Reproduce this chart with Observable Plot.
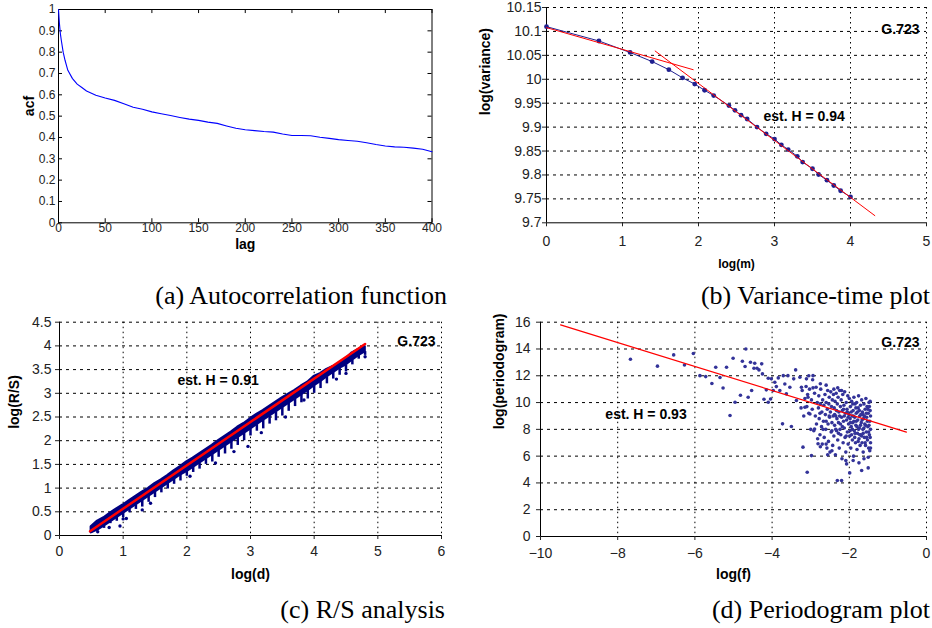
<!DOCTYPE html>
<html><head><meta charset="utf-8">
<script src="https://cdn.jsdelivr.net/npm/d3@7"></script>
<script src="https://cdn.jsdelivr.net/npm/@observablehq/plot@0.6"></script>
<style>
body{margin:0;background:#fff;}
#wrap{position:relative;width:932px;height:628px;overflow:hidden;background:#fff;}
.panel{position:absolute;}
.cap{position:absolute;font-family:"Liberation Serif","Times New Roman",Times,serif;font-size:26px;line-height:30px;color:#000;white-space:nowrap;}
</style></head><body><div id="wrap"></div>
<script>
// ---------- (a) Autocorrelation function ----------
const acfLag = [0,1,2,3,5,7,10,15,20,25,30,40,50,60,70,80,90,100,110,120,130,140,150,160,170,180,190,200,210,220,230,240,250,260,270,280,290,300,310,320,330,340,350,360,370,380,390,400];
const acfVal = [1.0,0.934,0.887,0.856,0.80,0.762,0.715,0.676,0.65,0.634,0.618,0.598,0.585,0.574,0.558,0.542,0.532,0.52,0.511,0.503,0.494,0.486,0.48,0.472,0.466,0.454,0.443,0.436,0.432,0.428,0.425,0.416,0.409,0.409,0.408,0.401,0.396,0.39,0.386,0.382,0.375,0.367,0.36,0.356,0.354,0.35,0.345,0.333];
const aXTicks = [0,50,100,150,200,250,300,350,400];
const aYTicks = [0,0.1,0.2,0.3,0.4,0.5,0.6,0.7,0.8,0.9,1];

// ---------- (b) Variance-time plot ----------
const vtLogM = [0,0.69,1.1,1.39,1.61,1.79,1.95,2.08,2.2,2.4,2.48,2.56,2.64,2.77,2.89,3.0,3.09,3.18,3.3,3.37,3.5,3.58,3.69,3.78,3.87,4.0];
const vtLogVar = [10.11,10.08,10.056,10.037,10.02,10.003,9.99,9.977,9.966,9.945,9.935,9.925,9.917,9.90,9.886,9.875,9.863,9.853,9.839,9.827,9.813,9.801,9.789,9.778,9.767,9.754];
const vtFit1X = [0,1.93], vtFit1Y = [10.108,10.02];
const vtFit2X = [1.43,4.32], vtFit2Y = [10.059,9.715];
const bXTicks = [0,1,2,3,4,5];
const bYTicks = [9.7,9.75,9.8,9.85,9.9,9.95,10,10.05,10.1,10.15];

// ---------- (c) R/S analysis (per log(d) column: sparse lower tail, dense core, top) ----------
const rsX   = [0.5,0.6,0.7,0.8,0.9,1.0,1.1,1.2,1.3,1.4,1.5,1.6,1.7,1.8,1.9,2.0,2.1,2.2,2.3,2.4,2.5,2.6,2.7,2.8,2.9,3.0,3.1,3.2,3.3,3.4,3.5,3.6,3.7,3.8,3.9,4.0,4.1,4.2,4.3,4.4,4.5,4.6,4.7,4.8];
const rsLo  = [0.05,0.1,0.15,0.25,0.3,0.38,0.48,0.55,0.6,0.7,0.8,0.9,0.98,1.08,1.15,1.25,1.33,1.4,1.5,1.55,1.65,1.72,1.82,1.9,2.0,2.1,2.2,2.25,2.35,2.42,2.52,2.62,2.72,2.8,2.88,3.0,3.1,3.2,3.3,3.38,3.45,3.6,3.72,3.8];
const rsMid = [0.06,0.12,0.2,0.29,0.38,0.47,0.56,0.65,0.74,0.83,0.92,1.01,1.1,1.19,1.28,1.35,1.44,1.53,1.62,1.71,1.8,1.89,1.98,2.07,2.16,2.25,2.34,2.43,2.52,2.61,2.7,2.79,2.88,2.97,3.06,3.16,3.25,3.35,3.44,3.53,3.6,3.7,3.8,3.88];
const rsHi  = [0.18,0.3,0.37,0.47,0.56,0.64,0.73,0.82,0.91,0.99,1.09,1.17,1.26,1.36,1.45,1.55,1.63,1.72,1.81,1.9,2.0,2.09,2.18,2.28,2.36,2.46,2.55,2.63,2.72,2.81,2.9,2.98,3.06,3.15,3.23,3.35,3.41,3.5,3.56,3.63,3.72,3.85,3.92,3.98];
const rsOutX = [0.78,0.95,1.0,1.3,2.45,2.74,2.96,3.17,3.84,4.5,4.8,0.6,1.05,1.43,2.05,3.55,4.35];
const rsOutY = [0.17,0.2,0.35,0.54,1.53,1.77,1.88,2.17,2.86,3.42,3.77,0.08,0.36,0.68,1.25,2.5,3.3];
const rsFitX = [0.48,4.8], rsFitY = [0.09,4.04];
const cXTicks = [0,1,2,3,4,5,6];
const cYTicks = [0,0.5,1,1.5,2,2.5,3,3.5,4,4.5];

// ---------- (d) Periodogram plot ----------
const perPts = [
[-7.67,13.23],[-6.97,12.72],[-6.55,13.56],[-6.27,12.81],[-6.04,13.66],[-5.87,12.01],[-5.72,11.94],[-5.56,11.42],[-5.46,12.64],[-5.35,11.87],[-5.27,11.09],[-5.18,12.64],[-5.09,9.03],[-5.01,13.31],[-4.96,10.02],[-4.82,10.55],[-4.77,13.08],[-4.68,14.0],[-4.70,12.69],[-4.62,10.4],[-4.56,13.01],[-4.53,10.9],[-4.47,12.56],[-4.45,12.94],[-4.39,12.56],[-4.34,12.44],[-4.27,12.89],[-4.25,12.14],[-4.21,10.25],[-4.15,10.95],[-4.10,11.82],[-4.10,10.02],[-4.04,10.27],[-4.02,11.77],[-3.97,10.9],[-3.93,11.52],[-3.89,11.19],[-3.84,11.84],[-3.80,10.9],[-3.73,8.41],[-3.71,12.01],[-3.67,11.39],[-3.63,10.65],[-3.59,12.01],[-3.54,11.14],[-3.50,8.21],[-3.44,11.77],[-3.39,12.44],[-3.37,10.15],[-3.28,11.89],[-3.24,11.14],[-3.20,6.67],[-3.15,9.65],[-3.11,11.77],[-3.09,4.80],[-3.07,10.4],[-3.02,9.15],[-2.98,6.04],[-2.94,12.01],[-2.90,8.03],[-2.86,11.14],[-2.81,6.92],
[-3.25,9.6],[-3.22,10.9],[-3.18,9.0],[-3.15,10.3],[-3.12,11.2],[-3.1,9.7],[-3.08,10.6],[-3.05,9.2],[-3.03,11.0],[-3.0,8.0],[-2.98,10.2],[-2.96,9.5],[-2.94,11.1],[-2.92,7.9],[-2.9,10.7],[-2.88,9.0],[-2.85,8.4],[-2.83,10.0],[-2.82,7.3],[-2.8,9.6],
[-2.79,10.5],[-2.78,8.8],[-2.76,7.6],[-2.75,9.9],[-2.74,11.0],[-2.72,8.2],[-2.71,9.3],[-2.7,6.9],[-2.69,10.2],[-2.67,8.6],[-2.66,9.8],[-2.65,7.4],[-2.63,10.6],[-2.62,9.1],[-2.61,8.0],[-2.6,10.0],[-2.58,6.6],[-2.57,9.5],[-2.56,10.9],[-2.55,8.4],[-2.54,7.1],[-2.53,9.9],[-2.52,10.4],[-2.51,8.9],[-2.5,6.3],[-2.49,9.3],[-2.48,10.8],[-2.47,7.8],[-2.46,9.7],[-2.45,8.5],[-2.44,10.2],[-2.43,6.8],[-2.42,9.0],[-2.41,10.6],[-2.4,7.5],
[-2.39,9.6],[-2.38,8.3],[-2.37,10.1],[-2.36,6.1],[-2.35,9.0],[-2.34,10.7],[-2.33,7.9],[-2.32,8.8],[-2.31,9.9],[-2.3,7.2],[-2.29,10.4],[-2.28,8.5],[-2.27,9.3],[-2.26,6.6],[-2.25,10.9],[-2.24,8.0],[-2.23,9.7],[-2.22,7.6],[-2.21,10.2],[-2.2,8.9],[-2.19,5.8],[-2.18,9.4],[-2.17,10.6],[-2.16,7.0],[-2.15,8.6],[-2.14,9.8],[-2.13,8.1],[-2.12,10.8],[-2.11,7.4],[-2.1,9.2],[-2.09,6.3],[-2.08,10.0],[-2.07,8.7],[-2.06,9.5],[-2.05,7.8],[-2.04,10.5],[-2.03,6.9],[-2.02,8.4],[-2.01,9.1],[-2.0,10.3],
[-1.99,7.5],[-1.98,8.8],[-1.97,9.7],[-1.96,6.6],[-1.95,8.2],[-1.94,10.1],[-1.93,9.0],[-1.92,7.2],[-1.91,8.5],[-1.9,9.4],[-1.89,6.0],[-1.88,10.4],[-1.87,7.9],[-1.86,8.9],[-1.85,9.9],[-1.84,7.0],[-1.83,8.3],[-1.82,9.2],[-1.81,10.0],[-1.8,6.5],[-1.79,7.7],[-1.78,8.7],[-1.77,9.6],[-1.76,10.5],[-1.75,7.3],[-1.74,8.1],[-1.73,9.0],[-1.72,6.8],[-1.71,9.8],[-1.7,7.6],[-1.69,8.5],[-1.68,10.2],[-1.67,7.0],[-1.66,9.3],[-1.65,8.0],[-1.64,6.3],[-1.63,8.8],[-1.62,9.9],[-1.61,7.4],[-1.6,8.4],[-1.59,9.5],[-1.58,6.8],[-1.57,10.3],[-1.56,7.8],[-1.55,8.9],[-1.54,9.7],[-1.53,7.2],[-1.52,8.2],[-1.51,9.2],[-1.5,6.6],[-1.49,10.0],[-1.48,7.6],[-1.47,8.6],[-1.46,9.4],[-1.45,7.0],[-1.45,8.0],[-1.45,9.0],[-1.45,6.6],[-1.46,10.1],[-1.47,6.4],
[-1.98,7.9],[-1.95,9.3],[-1.92,8.0],[-1.89,9.0],[-1.86,7.4],[-1.83,9.6],[-1.8,8.2],[-1.77,7.1],[-1.74,9.4],[-1.71,8.3],[-1.68,7.5],[-1.65,9.1],[-1.62,8.1],[-1.59,7.0],[-1.56,9.2],[-1.53,8.6],[-1.5,7.8],[-1.48,9.7],[-1.97,8.5],[-1.94,7.6],[-1.91,9.9],[-1.88,8.6],[-1.85,7.7],[-1.82,8.6],[-1.79,9.3],[-1.76,8.0],[-1.73,7.6],[-1.7,9.1],[-1.67,8.7],[-1.64,7.7],[-1.61,9.0],[-1.58,8.3],[-1.55,7.4],[-1.52,9.5],[-1.49,8.3],[-1.46,7.4],
[-2.38,9.1],[-2.33,9.4],[-2.28,7.7],[-2.23,8.4],[-2.18,8.2],[-2.13,9.0],[-2.08,7.5],[-2.03,8.9],[-2.35,8.0],[-2.25,9.0],[-2.15,9.5],[-2.05,9.3],[-2.76,9.2],[-2.68,8.0],[-2.6,8.6],[-2.52,9.0],[-2.45,7.9],
[-2.31,4.18],[-2.2,4.18],[-1.99,4.75],[-1.68,4.93],[-1.51,5.12],[-2.07,5.42],[-1.9,5.67],[-2.09,5.67],[-1.51,5.92],[-2.45,6.4],[-2.56,6.1],[-1.75,5.5],[-1.62,5.8],[-2.6,6.9],[-2.75,6.7],
[-3.05,12.0],[-2.95,11.7],[-2.75,11.4],[-2.6,11.3],[-2.4,11.0],[-2.3,11.1],[-2.2,10.9]
];
const perFitX = [-9.48,-0.52], perFitY = [15.8,7.79];
const dXTicks = [-10,-8,-6,-4,-2,0];
const dYTicks = [0,2,4,6,8,10,12,14,16];

// annotations
const seriesName = "G.723";
const hLabels = ["est. H = 0.94","est. H = 0.91","est. H = 0.93"];
const hPosX = [2.855,1.853,-8.32], hPosY = [9.922,3.27,9.1];
const captions = ["(a) Autocorrelation function","(b) Variance-time plot","(c) R/S analysis","(d) Periodogram plot"];

const FONT = '"Liberation Sans",Arial,Helvetica,sans-serif';
const zip = (xs, ys) => xs.map((x, i) => ({x, y: ys[i]}));
const wrap = document.getElementById("wrap");
function place(node, left, top) {
  node.classList.add("panel");
  node.style.left = left + "px"; node.style.top = top + "px";
  wrap.appendChild(node);
}
const dotted = {stroke: "#000", strokeOpacity: 1, strokeWidth: 1};
const NAVY = "#000080";

// (a)
{
  const tx = 4.3, ty = 0.019;
  const p = Plot.plot({
    width: 466, height: 260, marginLeft: 58, marginRight: 34.5, marginTop: 9, marginBottom: 37.7,
    style: {fontFamily: FONT, fontSize: "12px", color: "#222", background: "transparent", overflow: "visible"},
    x: {domain: [0, 400]}, y: {domain: [0, 1]},
    marks: [
      Plot.frame({stroke: "#000"}),
      Plot.ruleX(aXTicks, {x: d => d, y1: 0, y2: ty, stroke: "#000"}),
      Plot.ruleX(aXTicks, {x: d => d, y1: 1 - ty, y2: 1, stroke: "#000"}),
      Plot.ruleY(aYTicks, {y: d => d, x1: 0, x2: tx, stroke: "#000"}),
      Plot.ruleY(aYTicks, {y: d => d, x1: 400 - tx, x2: 400, stroke: "#000"}),
      Plot.axisX(aXTicks, {tickSize: 0, tickPadding: 1, label: null}),
      Plot.axisY(aYTicks, {tickSize: 0, tickPadding: 3, label: null, tickFormat: d => String(d)}),
      Plot.line(zip(acfLag, acfVal), {x: "x", y: "y", stroke: "#0000ff", strokeWidth: 1.1}),
      Plot.text(["lag"], {text: d => d, frameAnchor: "bottom", dy: 26, fontWeight: "bold", fontSize: 14, fill: "#000"}),
      Plot.text(["acf"], {text: d => d, frameAnchor: "left", dx: -29, rotate: -90, fontWeight: "bold", fontSize: 14, fill: "#000"})
    ]
  });
  place(p, 0, 0);
}

// (b)
{
  const p = Plot.plot({
    width: 466, height: 290, marginLeft: 80, marginRight: 6, marginTop: 7, marginBottom: 67.7,
    style: {fontFamily: FONT, fontSize: "14px", color: "#222", background: "transparent", overflow: "visible"},
    x: {domain: [0, 5]}, y: {domain: [9.7, 10.15]},
    marks: [
      Plot.gridX(bXTicks.slice(1), {...dotted, strokeDasharray: "1.5,3.5"}),
      Plot.gridY(bYTicks.slice(1), {...dotted, strokeDasharray: "3,4"}),
      Plot.ruleX([0], {stroke: "#000"}),
      Plot.ruleY([9.7], {stroke: "#000"}),
      Plot.axisX(bXTicks, {tickSize: 4, tickPadding: 9, label: null}),
      Plot.axisY(bYTicks, {tickSize: 4, tickPadding: 1, label: null, tickFormat: d => String(d)}),
      Plot.line(zip(vtLogM, vtLogVar), {x: "x", y: "y", stroke: "#1f1f8f", strokeWidth: 1}),
      Plot.dot(zip(vtLogM, vtLogVar), {x: "x", y: "y", r: 2.4, fill: "#1f1f8f"}),
      Plot.line(zip(vtFit1X, vtFit1Y), {x: "x", y: "y", stroke: "#ff0000", strokeWidth: 1}),
      Plot.line(zip(vtFit2X, vtFit2Y), {x: "x", y: "y", stroke: "#ff0000", strokeWidth: 1}),
      Plot.text([seriesName], {text: d => d, frameAnchor: "top-right", dx: -7, dy: 17, textAnchor: "end", fontWeight: "bold", fontSize: 14, fill: "#000"}),
      Plot.text([0], {x: () => hPosX[0], y: () => hPosY[0], text: () => hLabels[0], textAnchor: "start", fontWeight: "bold", fontSize: 14, fill: "#000"}),
      Plot.text(["log(m)"], {text: d => d, frameAnchor: "bottom", dy: 45, fontWeight: "bold", fontSize: 12, fill: "#000"}),
      Plot.text(["log(variance)"], {text: d => d, frameAnchor: "left", dx: -61, rotate: -90, fontWeight: "bold", fontSize: 14, fill: "#000"})
    ]
  });
  place(p, 466, 0);
}

// (c)
{
  const cols = rsX.map((x, i) => ({x, lo: rsLo[i], mid: rsMid[i], hi: rsHi[i]}));
  const p = Plot.plot({
    width: 466, height: 300, marginLeft: 59, marginRight: 25, marginTop: 21.7, marginBottom: 65,
    style: {fontFamily: FONT, fontSize: "14px", color: "#222", background: "transparent", overflow: "visible"},
    x: {domain: [0, 6]}, y: {domain: [0, 4.5]},
    marks: [
      Plot.gridX(cXTicks.slice(1), {...dotted, strokeDasharray: "1.5,3.5"}),
      Plot.gridY(cYTicks.slice(1), {...dotted, strokeDasharray: "3,4"}),
      Plot.ruleX([0], {stroke: "#000"}),
      Plot.ruleY([0], {stroke: "#000"}),
      Plot.axisX(cXTicks, {tickSize: 4, tickPadding: 7, label: null}),
      Plot.axisY(cYTicks, {tickSize: 4, tickPadding: 4, label: null, tickFormat: d => String(d)}),
      Plot.ruleX(cols, {x: "x", y1: "lo", y2: "mid", stroke: NAVY, strokeWidth: 2.5}),
      Plot.areaY(cols, {x: "x", y1: "mid", y2: "hi", fill: NAVY, stroke: NAVY, strokeWidth: 2.5}),
      Plot.dot(zip(rsOutX, rsOutY), {x: "x", y: "y", r: 1.7, fill: NAVY}),
      Plot.line(zip(rsFitX, rsFitY), {x: "x", y: "y", stroke: "#ff0000", strokeWidth: 2.5}),
      Plot.text([seriesName], {text: d => d, frameAnchor: "top-right", dx: -6, dy: 14, textAnchor: "end", fontWeight: "bold", fontSize: 14, fill: "#000"}),
      Plot.text([1], {x: () => hPosX[1], y: () => hPosY[1], text: () => hLabels[1], textAnchor: "start", fontWeight: "bold", fontSize: 14, fill: "#000"}),
      Plot.text(["log(d)"], {text: d => d, frameAnchor: "bottom", dy: 43, fontWeight: "bold", fontSize: 14, fill: "#000"}),
      Plot.text(["log(R/S)"], {text: d => d, frameAnchor: "left", dx: -45, rotate: -90, fontWeight: "bold", fontSize: 14, fill: "#000"})
    ]
  });
  place(p, 0, 300);
}

// (d)
{
  const p = Plot.plot({
    width: 466, height: 300, marginLeft: 74, marginRight: 6, marginTop: 21.7, marginBottom: 64,
    style: {fontFamily: FONT, fontSize: "14px", color: "#222", background: "transparent", overflow: "visible"},
    x: {domain: [-10, 0]}, y: {domain: [0, 16]},
    marks: [
      Plot.gridX(dXTicks.slice(1), {...dotted, strokeDasharray: "1.5,3.5"}),
      Plot.gridY(dYTicks.slice(1), {...dotted, strokeDasharray: "3,4"}),
      Plot.ruleX([-10], {stroke: "#000"}),
      Plot.ruleY([0], {stroke: "#000"}),
      Plot.axisX(dXTicks, {tickSize: 4, tickPadding: 8, label: null}),
      Plot.axisY(dYTicks, {tickSize: 4, tickPadding: 6, label: null, tickFormat: d => String(d)}),
      Plot.dot(perPts, {x: d => d[0], y: d => d[1], r: 1.8, fill: "#333399"}),
      Plot.line(zip(perFitX, perFitY), {x: "x", y: "y", stroke: "#ff0000", strokeWidth: 1.2}),
      Plot.text([seriesName], {text: d => d, frameAnchor: "top-right", dx: -7, dy: 15, textAnchor: "end", fontWeight: "bold", fontSize: 14, fill: "#000"}),
      Plot.text([2], {x: () => hPosX[2], y: () => hPosY[2], text: () => hLabels[2], textAnchor: "start", fontWeight: "bold", fontSize: 14, fill: "#000"}),
      Plot.text(["log(f)"], {text: d => d, frameAnchor: "bottom", dy: 42, fontWeight: "bold", fontSize: 14, fill: "#000"}),
      Plot.text(["log(periodogram)"], {text: d => d, frameAnchor: "left", dx: -41, rotate: -90, fontWeight: "bold", fontSize: 14, fill: "#000"})
    ]
  });
  place(p, 466, 300);
}

// captions, right-aligned under each panel
const capRight = [447, 930, 445, 930], capTop = [281, 281, 595, 595];
captions.forEach((t, i) => {
  const d = document.createElement("div");
  d.className = "cap"; d.textContent = t;
  wrap.appendChild(d);
  const w = d.getBoundingClientRect().width;
  d.style.left = (capRight[i] - w) + "px";
  d.style.top = capTop[i] + "px";
});
</script></body></html>
